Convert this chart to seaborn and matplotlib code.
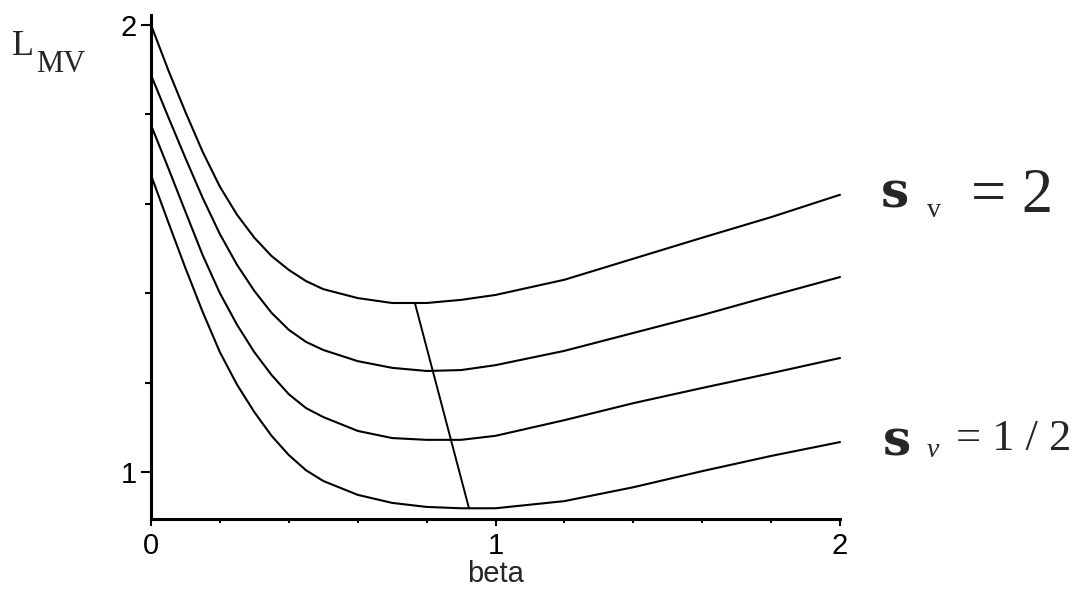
import matplotlib
matplotlib.use("Agg")
import matplotlib.pyplot as plt
import seaborn as sns
import pandas as pd
import numpy as np

# values
beta = [0, 0.05, 0.1, 0.15, 0.2, 0.25, 0.3, 0.35, 0.4, 0.45, 0.5, 0.6, 0.7, 0.8, 0.9, 1.0,
        1.2, 1.4, 1.6, 1.8, 2.0]
L_sig_2 = [2.000, 1.899, 1.805, 1.716, 1.638, 1.575, 1.524, 1.483, 1.452, 1.427, 1.409,
           1.389, 1.378, 1.378, 1.385, 1.396, 1.430, 1.477, 1.524, 1.570, 1.620]
L_sig_b = [1.888, 1.794, 1.702, 1.613, 1.532, 1.463, 1.405, 1.356, 1.318, 1.291, 1.273,
           1.248, 1.233, 1.226, 1.228, 1.239, 1.271, 1.311, 1.351, 1.394, 1.436]
L_sig_c = [1.776, 1.680, 1.582, 1.485, 1.400, 1.329, 1.268, 1.217, 1.174, 1.143, 1.123,
           1.092, 1.076, 1.072, 1.072, 1.081, 1.116, 1.154, 1.188, 1.221, 1.255]
L_sig_half = [1.664, 1.559, 1.456, 1.358, 1.268, 1.195, 1.134, 1.081, 1.038, 1.004, 0.980,
              0.949, 0.931, 0.922, 0.919, 0.919, 0.935, 0.966, 1.002, 1.036, 1.067]
sigma_names = ["2", "b", "c", "1/2"]

# line joining the minima
min_beta = [0.766, 0.923]
min_L = [1.378, 0.919]

x_ticks = [0, 1, 2]
y_ticks = [1, 2]

df = pd.DataFrame({
    "beta": beta * 4,
    "L": L_sig_2 + L_sig_b + L_sig_c + L_sig_half,
    "sigma": [s for s in sigma_names for _ in beta],
})

sns.set_style("white")
plt.rcParams["font.family"] = ["Liberation Sans", "DejaVu Sans"]

fig = plt.figure(figsize=(10.8, 5.92), dpi=100)
ax = fig.add_axes([151 / 1080, 1 - 519 / 592, (840 - 151) / 1080, (519 - 15) / 592])

sns.lineplot(data=df, x="beta", y="L", hue="sigma", palette=["black"] * 4,
             legend=False, linewidth=1.5, ax=ax, sort=False, clip_on=False)
sns.lineplot(x=min_beta, y=min_L, color="black", linewidth=1.4, ax=ax)

ax.set_xlim(0, 2)
ax.set_ylim(0.895, 2.022)
ax.set_xticks(x_ticks)
ax.set_xticks(np.arange(0, 2.01, 0.2), minor=True)
ax.set_yticks(y_ticks)
ax.set_yticks(np.arange(1.0, 2.01, 0.2), minor=True)
ax.set_xticklabels([str(t) for t in x_ticks])
ax.set_yticklabels([str(t) for t in y_ticks])
ax.tick_params(which="both", bottom=True, left=True, colors="black", direction="out", width=1.5)
ax.tick_params(axis="x", which="major", length=5, pad=4, labelsize=21)
ax.tick_params(axis="x", which="minor", length=3)
ax.tick_params(axis="y", which="major", length=7, pad=3, labelsize=21)
ax.tick_params(axis="y", which="minor", length=4.5)
ax.set_xlabel("")
ax.set_ylabel("")
for side in ["top", "right"]:
    ax.spines[side].set_visible(False)
for side in ["left", "bottom"]:
    ax.spines[side].set_linewidth(2.2)
    ax.spines[side].set_color("black")
ax.patch.set_alpha(0)

W, H = 1080, 592
def ftxt(x, y, s, **kw):
    fig.text(x / W, 1 - y / H, s, va="baseline", **kw)

ftxt(496, 582, "beta", ha="center", fontsize=21)

serif = ["Liberation Serif", "DejaVu Serif"]
ftxt(12, 55, "L", family=serif, fontsize=26)
ftxt(36, 72, "MV", family=serif, fontsize=22)

ftxt(881, 207, "s", family=["DejaVu Serif"], fontweight="bold", fontsize=36)
ftxt(927, 217, "v", family=serif, fontsize=20)
ftxt(971, 212, "= 2", family=serif, fontsize=45)

ftxt(883, 455, "s", family=["DejaVu Serif"], fontweight="bold", fontsize=36)
ftxt(927, 457, "v", family=serif, fontstyle="italic", fontsize=20)
ftxt(956, 450, "= 1 / 2", family=serif, fontsize=32)

fig.savefig("out.png", dpi=100)
